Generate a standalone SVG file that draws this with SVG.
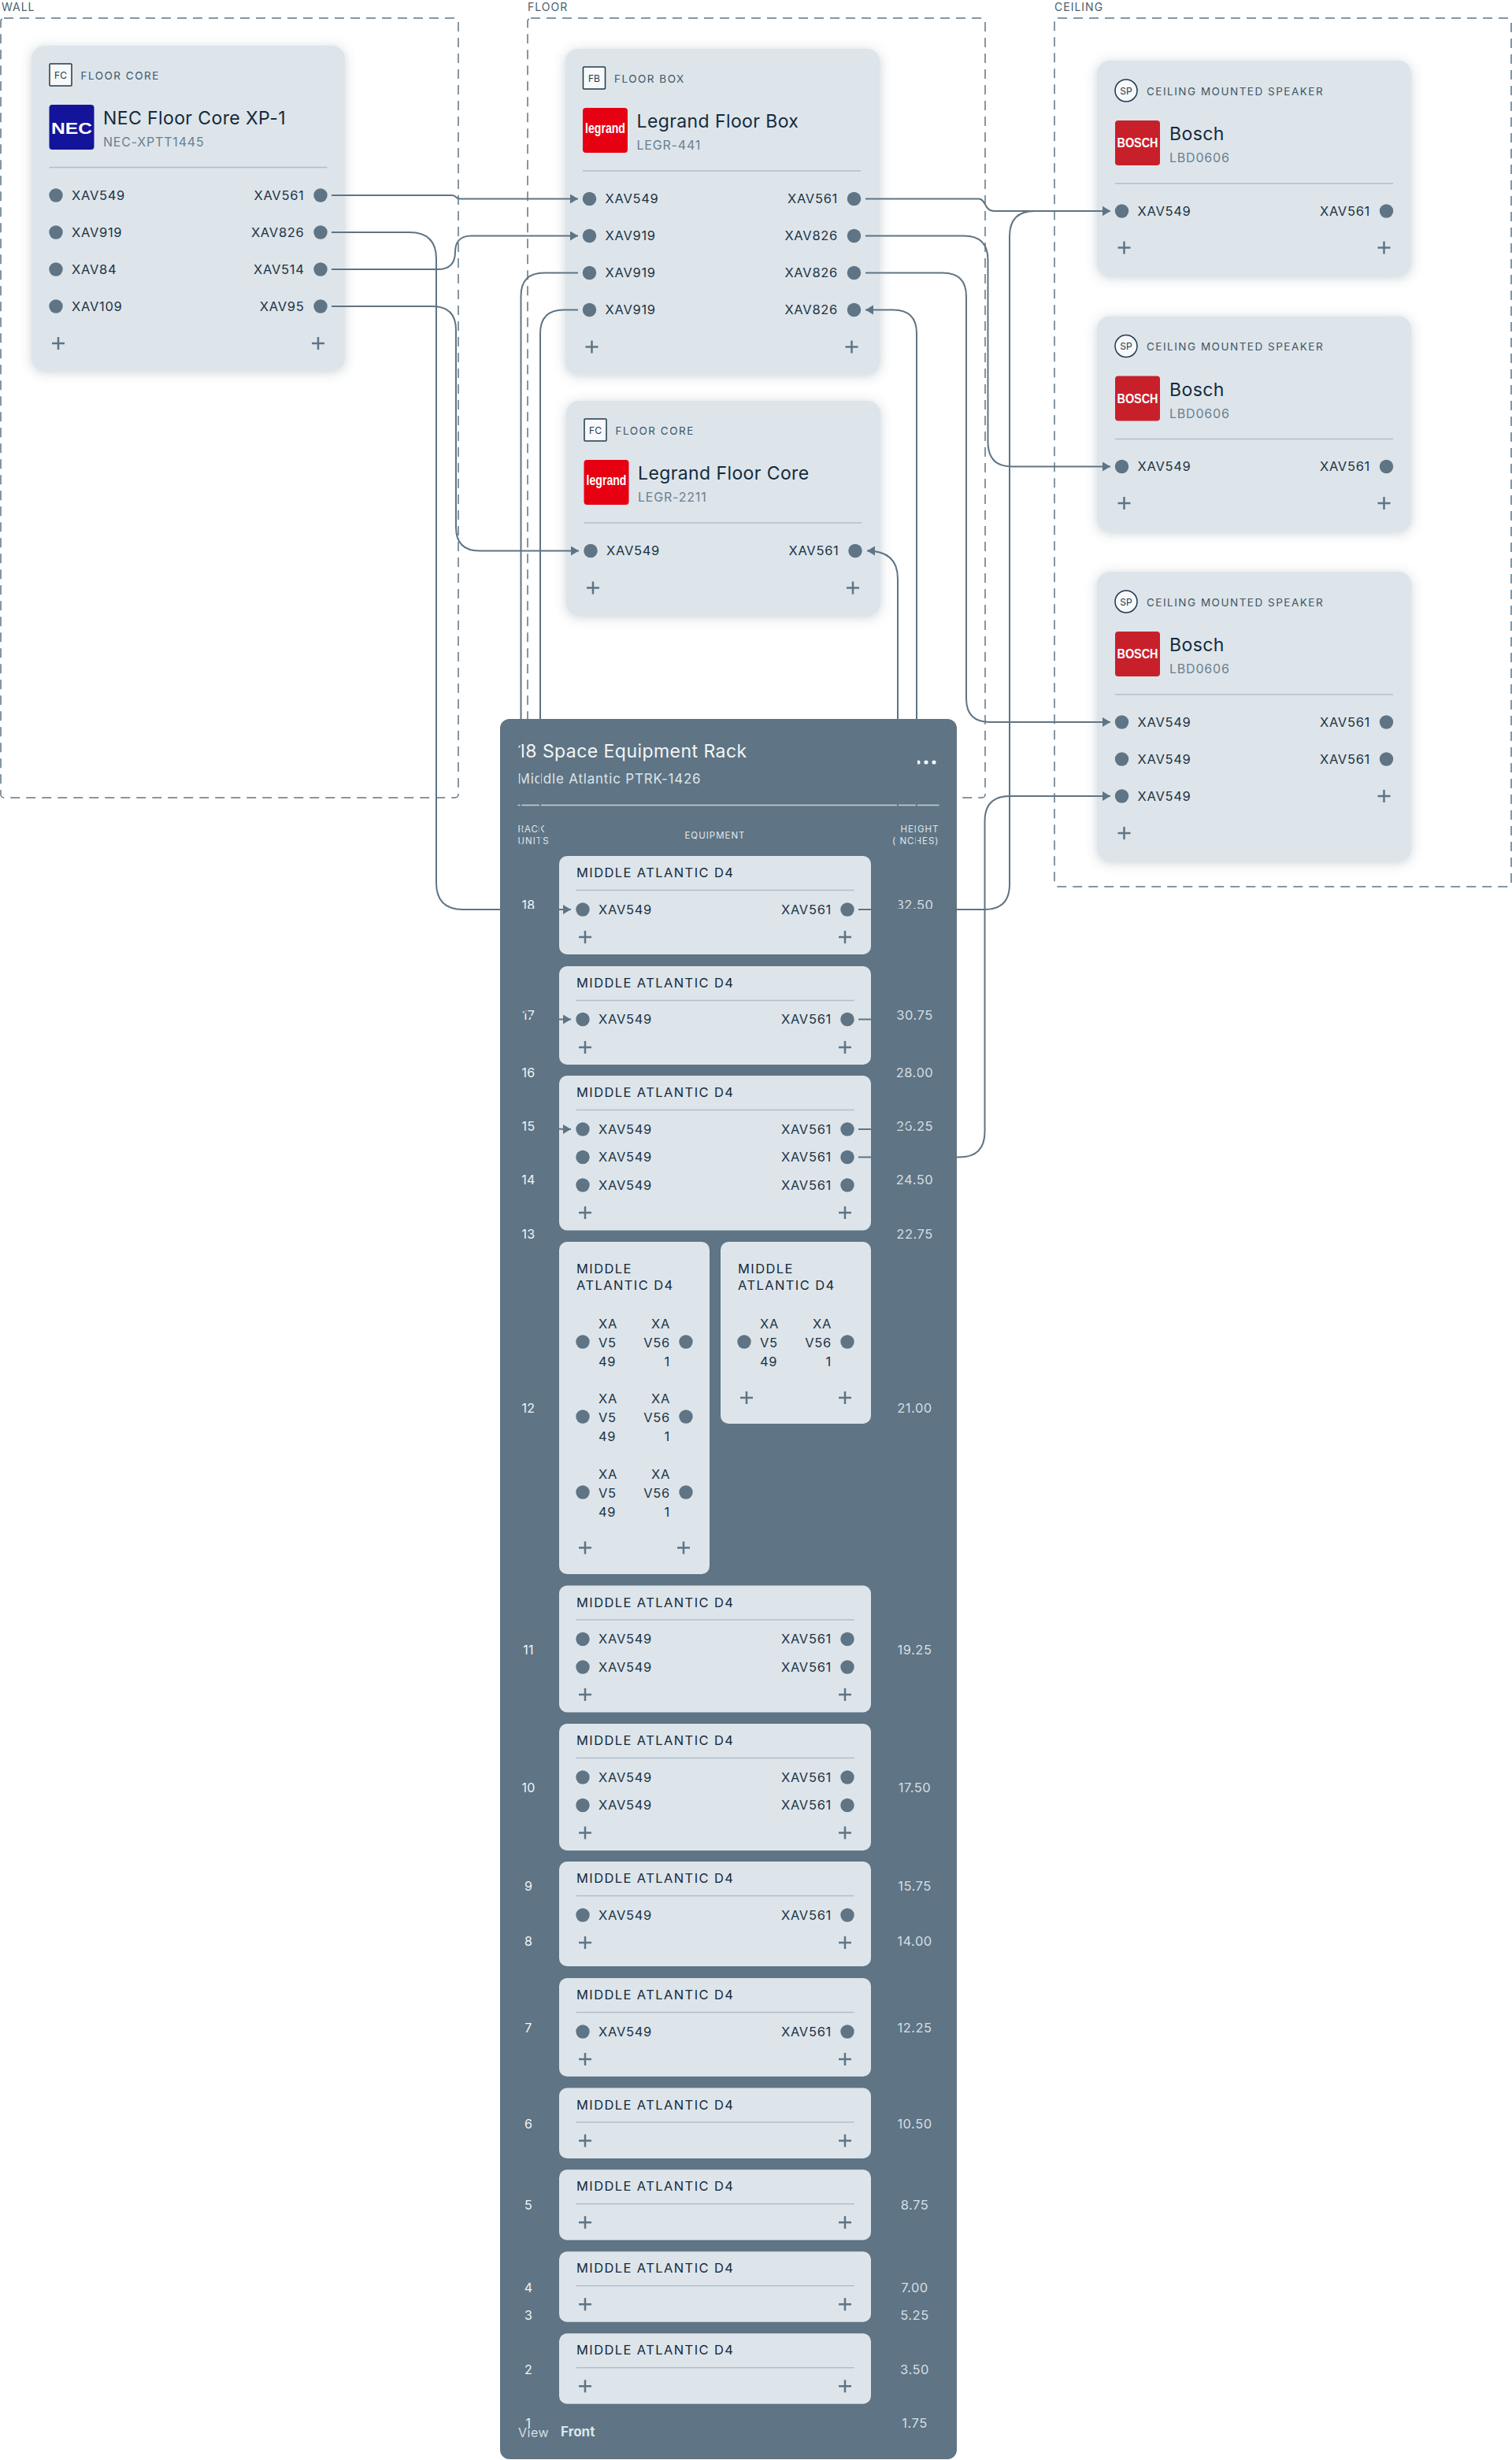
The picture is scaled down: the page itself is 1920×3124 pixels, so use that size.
<svg xmlns="http://www.w3.org/2000/svg" width="1920" height="3124" viewBox="0 0 1920 3124">
<style>
text{font-family:Inter,"Noto Sans","Liberation Sans",sans-serif}
.zone{fill:none;stroke:#5f7484;stroke-width:1.5;stroke-dasharray:12 8}
.zl{font-size:14px;letter-spacing:1px;fill:#4a5f6e}
.card{fill:#dde5eb;filter:url(#sh)}
.eq{fill:#dde5eb}
.ib{fill:#f7f9fa;stroke:#22384a;stroke-width:1.5}
.it{font-size:12px;fill:#22384a;text-anchor:middle}
.cap{font-size:13.5px;letter-spacing:1.5px;fill:#3e5566}
.nm{font-size:23px;fill:#132a3c;letter-spacing:.4px}
.sb{font-size:16px;fill:#6a7f8e;letter-spacing:.8px}
.div{stroke:#b0bfca;stroke-width:1.5;fill:none}
.d{fill:#5f7484}
.pt{font-size:16.5px;fill:#1c3344;letter-spacing:.7px}
.e{text-anchor:end}
.p{stroke:#5f7484;stroke-width:2.5;fill:none}
.lg{font-family:"Liberation Sans",sans-serif;font-weight:700;fill:#fff;text-anchor:middle}
.eqt{font-size:16.5px;letter-spacing:1.4px;fill:#14293a}
.ru{font-size:16px;fill:#f1f4f6;text-anchor:middle;letter-spacing:.3px}
.rh{font-size:16.5px;fill:#d5dee4;text-anchor:middle;letter-spacing:.5px}
.hd{font-size:11.5px;letter-spacing:1px;fill:#dfe6eb}
.cn{fill:none;stroke:#5f7484;stroke-width:2}
.ar{marker-end:url(#arw)}
</style>
<defs>
<filter id="sh" x="-15%" y="-15%" width="130%" height="130%"><feDropShadow dx="0" dy="2" stdDeviation="7" flood-color="#4a6070" flood-opacity=".28"/></filter>
<marker id="arw" markerUnits="userSpaceOnUse" markerWidth="11" markerHeight="13" refX="10" refY="6" orient="auto"><path d="M0 0L10 6L0 12Z" fill="#5f7484"/></marker>
<path id="plus" d="M-8 0H8M0 -8V8" class="p"/>
</defs>

<g id="zones">
<rect class="zone" x="1" y="23" width="581" height="990" rx="4"/>
<text class="zl" x="2" y="14">WALL</text>
<rect class="zone" x="670" y="23" width="581" height="990" rx="4"/>
<text class="zl" x="670" y="14">FLOOR</text>
<rect class="zone" x="1339" y="23" width="580" height="1103" rx="4"/>
<text class="zl" x="1339" y="14">CEILING</text>
</g>

<g id="wall-nec" transform="translate(40 58)">
<rect class="card" width="398" height="413" rx="16"/>
<rect class="ib" x="23" y="23" width="28" height="28" rx="1"/><text class="it" x="37" y="41.5">FC</text>
<text class="cap" x="62.5" y="42.7">FLOOR CORE</text>
<rect x="22.5" y="75" width="57" height="57" rx="4" fill="#14149a"/><text class="lg" x="51" y="112" font-size="20" textLength="52" lengthAdjust="spacingAndGlyphs">NEC</text>
<text class="nm" x="91" y="100">NEC Floor Core XP-1</text><text class="sb" x="91" y="128">NEC-XPTT1445</text>
<path class="div" d="M22.5 154.5H375.5"/>
<circle class="d" cx="31" cy="190" r="8.7"/><text class="pt" x="51" y="195.8">XAV549</text><text class="pt e" x="346.5" y="195.8">XAV561</text><circle class="d" cx="367" cy="190" r="8.7"/>
<circle class="d" cx="31" cy="237" r="8.7"/><text class="pt" x="51" y="242.8">XAV919</text><text class="pt e" x="346.5" y="242.8">XAV826</text><circle class="d" cx="367" cy="237" r="8.7"/>
<circle class="d" cx="31" cy="284" r="8.7"/><text class="pt" x="51" y="289.8">XAV84</text><text class="pt e" x="346.5" y="289.8">XAV514</text><circle class="d" cx="367" cy="284" r="8.7"/>
<circle class="d" cx="31" cy="331" r="8.7"/><text class="pt" x="51" y="336.8">XAV109</text><text class="pt e" x="346.5" y="336.8">XAV95</text><circle class="d" cx="367" cy="331" r="8.7"/>
<use href="#plus" x="34" y="378"/><use href="#plus" x="364" y="378"/>
</g>

<g id="floor-box" transform="translate(717.5 62)">
<rect class="card" width="400" height="413.5" rx="16"/>
<rect class="ib" x="23" y="23" width="28" height="28" rx="1"/><text class="it" x="37" y="41.5">FB</text>
<text class="cap" x="62.5" y="42.7">FLOOR BOX</text>
<rect x="22.5" y="75" width="57" height="57" rx="4" fill="#e60012"/><text class="lg" x="51" y="107" font-size="19" textLength="51" lengthAdjust="spacingAndGlyphs">legrand</text>
<text class="nm" x="91" y="100">Legrand Floor Box</text><text class="sb" x="91" y="128">LEGR-441</text>
<path class="div" d="M22.5 155H375.5"/>
<circle class="d" cx="31" cy="190.5" r="8.7"/><text class="pt" x="51" y="196.3">XAV549</text><text class="pt e" x="346.5" y="196.3">XAV561</text><circle class="d" cx="367" cy="190.5" r="8.7"/>
<circle class="d" cx="31" cy="237.5" r="8.7"/><text class="pt" x="51" y="243.3">XAV919</text><text class="pt e" x="346.5" y="243.3">XAV826</text><circle class="d" cx="367" cy="237.5" r="8.7"/>
<circle class="d" cx="31" cy="284.5" r="8.7"/><text class="pt" x="51" y="290.3">XAV919</text><text class="pt e" x="346.5" y="290.3">XAV826</text><circle class="d" cx="367" cy="284.5" r="8.7"/>
<circle class="d" cx="31" cy="331.5" r="8.7"/><text class="pt" x="51" y="337.3">XAV919</text><text class="pt e" x="346.5" y="337.3">XAV826</text><circle class="d" cx="367" cy="331.5" r="8.7"/>
<use href="#plus" x="34" y="378.5"/><use href="#plus" x="364" y="378.5"/>
</g>

<g id="floor-core" transform="translate(719 509)">
<rect class="card" width="399" height="273" rx="16"/>
<rect class="ib" x="23" y="23" width="28" height="28" rx="1"/><text class="it" x="37" y="41.5">FC</text>
<text class="cap" x="62.5" y="42.7">FLOOR CORE</text>
<rect x="22.5" y="75" width="57" height="57" rx="4" fill="#e60012"/><text class="lg" x="51" y="107" font-size="19" textLength="51" lengthAdjust="spacingAndGlyphs">legrand</text>
<text class="nm" x="91" y="100">Legrand Floor Core</text><text class="sb" x="91" y="128">LEGR-2211</text>
<path class="div" d="M22.5 155H375.5"/>
<circle class="d" cx="31" cy="190.5" r="8.7"/><text class="pt" x="51" y="196.3">XAV549</text><text class="pt e" x="346.5" y="196.3">XAV561</text><circle class="d" cx="367" cy="190.5" r="8.7"/>
<use href="#plus" x="34" y="237.5"/><use href="#plus" x="364" y="237.5"/>
</g>

<g id="ceiling-1" transform="translate(1393 77)">
<rect class="card" width="399" height="274" rx="16"/>
<circle class="ib" cx="37" cy="38" r="14"/><text class="it" x="37" y="42.5">SP</text>
<text class="cap" x="63" y="43.7">CEILING MOUNTED SPEAKER</text>
<rect x="23" y="76" width="57" height="57" rx="4" fill="#c8202a"/><text class="lg" x="51.5" y="110" font-size="16" textLength="52" lengthAdjust="spacingAndGlyphs">BOSCH</text>
<text class="nm" x="92" y="101">Bosch</text><text class="sb" x="92" y="129">LBD0606</text>
<path class="div" d="M23 156H376"/>
<circle class="d" cx="31.5" cy="191" r="8.7"/><text class="pt" x="51.5" y="196.8">XAV549</text><text class="pt e" x="347" y="196.8">XAV561</text><circle class="d" cx="367.5" cy="191" r="8.7"/>
<use href="#plus" x="34.5" y="237.5"/><use href="#plus" x="364.5" y="237.5"/>
</g>

<g id="ceiling-2" transform="translate(1393 401.5)">
<rect class="card" width="399" height="274" rx="16"/>
<circle class="ib" cx="37" cy="38" r="14"/><text class="it" x="37" y="42.5">SP</text>
<text class="cap" x="63" y="43.7">CEILING MOUNTED SPEAKER</text>
<rect x="23" y="76" width="57" height="57" rx="4" fill="#c8202a"/><text class="lg" x="51.5" y="110" font-size="16" textLength="52" lengthAdjust="spacingAndGlyphs">BOSCH</text>
<text class="nm" x="92" y="101">Bosch</text><text class="sb" x="92" y="129">LBD0606</text>
<path class="div" d="M23 156H376"/>
<circle class="d" cx="31.5" cy="191" r="8.7"/><text class="pt" x="51.5" y="196.8">XAV549</text><text class="pt e" x="347" y="196.8">XAV561</text><circle class="d" cx="367.5" cy="191" r="8.7"/>
<use href="#plus" x="34.5" y="237.5"/><use href="#plus" x="364.5" y="237.5"/>
</g>

<g id="ceiling-3" transform="translate(1393 726)">
<rect class="card" width="399" height="368" rx="16"/>
<circle class="ib" cx="37" cy="38" r="14"/><text class="it" x="37" y="42.5">SP</text>
<text class="cap" x="63" y="43.7">CEILING MOUNTED SPEAKER</text>
<rect x="23" y="76" width="57" height="57" rx="4" fill="#c8202a"/><text class="lg" x="51.5" y="110" font-size="16" textLength="52" lengthAdjust="spacingAndGlyphs">BOSCH</text>
<text class="nm" x="92" y="101">Bosch</text><text class="sb" x="92" y="129">LBD0606</text>
<path class="div" d="M23 156H376"/>
<circle class="d" cx="31.5" cy="191" r="8.7"/><text class="pt" x="51.5" y="196.8">XAV549</text><text class="pt e" x="347" y="196.8">XAV561</text><circle class="d" cx="367.5" cy="191" r="8.7"/>
<circle class="d" cx="31.5" cy="238" r="8.7"/><text class="pt" x="51.5" y="243.8">XAV549</text><text class="pt e" x="347" y="243.8">XAV561</text><circle class="d" cx="367.5" cy="238" r="8.7"/>
<circle class="d" cx="31.5" cy="285" r="8.7"/><text class="pt" x="51.5" y="290.8">XAV549</text>
<use href="#plus" x="364.5" y="285"/><use href="#plus" x="34.5" y="332"/>
</g>

<g id="rack">
<rect x="635" y="913" width="580" height="2210" rx="12" fill="#5f7484"/>
<text x="657.5" y="962" font-size="23" fill="#f3f6f7" letter-spacing=".45">18 Space Equipment Rack</text>
<text x="657.5" y="995" font-size="17" fill="#dde5eb" letter-spacing=".8">Middle Atlantic PTRK-1426</text>
<circle cx="1166" cy="968" r="2.6" fill="#f3f6f7"/><circle cx="1176" cy="968" r="2.6" fill="#f3f6f7"/><circle cx="1186" cy="968" r="2.6" fill="#f3f6f7"/>
<path d="M657.5 1022.5H1192.5" stroke="#c8d4dc" stroke-width="1.5"/>
<text class="hd" x="657.5" y="1057">RACK</text><text class="hd" x="657.5" y="1072">UNITS</text>
<text class="hd" x="908" y="1065" text-anchor="middle">EQUIPMENT</text>
<text class="hd e" x="1192.5" y="1057">HEIGHT</text><text class="hd e" x="1192.5" y="1072">(INCHES)</text>
<text class="ru" x="671" y="1155">18</text><text class="rh" x="1161.5" y="1155">32.50</text>
<text class="ru" x="671" y="1295">17</text><text class="rh" x="1161.5" y="1295">30.75</text>
<text class="ru" x="671" y="1367.5">16</text><text class="rh" x="1161.5" y="1367.5">28.00</text>
<text class="ru" x="671" y="1436">15</text><text class="rh" x="1161.5" y="1436">26.25</text>
<text class="ru" x="671" y="1504">14</text><text class="rh" x="1161.5" y="1504">24.50</text>
<text class="ru" x="671" y="1572.5">13</text><text class="rh" x="1161.5" y="1572.5">22.75</text>
<text class="ru" x="671" y="1794">12</text><text class="rh" x="1161.5" y="1794">21.00</text>
<text class="ru" x="671" y="2101">11</text><text class="rh" x="1161.5" y="2101">19.25</text>
<text class="ru" x="671" y="2275.5">10</text><text class="rh" x="1161.5" y="2275.5">17.50</text>
<text class="ru" x="671" y="2401">9</text><text class="rh" x="1161.5" y="2401">15.75</text>
<text class="ru" x="671" y="2470.5">8</text><text class="rh" x="1161.5" y="2470.5">14.00</text>
<text class="ru" x="671" y="2580.5">7</text><text class="rh" x="1161.5" y="2580.5">12.25</text>
<text class="ru" x="671" y="2702.5">6</text><text class="rh" x="1161.5" y="2702.5">10.50</text>
<text class="ru" x="671" y="2806">5</text><text class="rh" x="1161.5" y="2806">8.75</text>
<text class="ru" x="671" y="2910.5">4</text><text class="rh" x="1161.5" y="2910.5">7.00</text>
<text class="ru" x="671" y="2946">3</text><text class="rh" x="1161.5" y="2946">5.25</text>
<text class="ru" x="671" y="3014.5">2</text><text class="rh" x="1161.5" y="3014.5">3.50</text>
<text class="ru" x="671" y="3082.5">1</text><text class="rh" x="1161.5" y="3082.5">1.75</text>
<text x="658" y="3095" font-size="16" fill="#d5dee4" letter-spacing=".5">View</text>
<text x="712" y="3094" font-size="17" font-weight="700" fill="#dde5eb">Front</text>
</g>

<g id="eq-18" transform="translate(710 1087)">
<rect class="eq" width="396" height="125" rx="10"/><text class="eqt" x="22" y="27">MIDDLE ATLANTIC D4</text><path class="div" d="M21.5 43.5H374.5"/>
<circle class="d" cx="30" cy="68" r="8.7"/><text class="pt" x="50" y="73.8">XAV549</text><text class="pt e" x="346" y="73.8">XAV561</text><circle class="d" cx="366" cy="68" r="8.7"/>
<use href="#plus" x="33" y="103"/><use href="#plus" x="363" y="103"/>
</g>
<g id="eq-17" transform="translate(710 1227)">
<rect class="eq" width="396" height="125" rx="10"/><text class="eqt" x="22" y="27">MIDDLE ATLANTIC D4</text><path class="div" d="M21.5 43.5H374.5"/>
<circle class="d" cx="30" cy="67.5" r="8.7"/><text class="pt" x="50" y="73.3">XAV549</text><text class="pt e" x="346" y="73.3">XAV561</text><circle class="d" cx="366" cy="67.5" r="8.7"/>
<use href="#plus" x="33" y="103"/><use href="#plus" x="363" y="103"/>
</g>
<g id="eq-16" transform="translate(710 1366)">
<rect class="eq" width="396" height="196.5" rx="10"/><text class="eqt" x="22" y="27">MIDDLE ATLANTIC D4</text><path class="div" d="M21.5 43.5H374.5"/>
<circle class="d" cx="30" cy="68" r="8.7"/><text class="pt" x="50" y="73.8">XAV549</text><text class="pt e" x="346" y="73.8">XAV561</text><circle class="d" cx="366" cy="68" r="8.7"/>
<circle class="d" cx="30" cy="103.5" r="8.7"/><text class="pt" x="50" y="109.3">XAV549</text><text class="pt e" x="346" y="109.3">XAV561</text><circle class="d" cx="366" cy="103.5" r="8.7"/>
<circle class="d" cx="30" cy="139" r="8.7"/><text class="pt" x="50" y="144.8">XAV549</text><text class="pt e" x="346" y="144.8">XAV561</text><circle class="d" cx="366" cy="139" r="8.7"/>
<use href="#plus" x="33" y="174"/><use href="#plus" x="363" y="174"/>
</g>
<g id="eq-12a" transform="translate(710 1577)">
<rect class="eq" width="191" height="422" rx="10"/><text class="eqt" x="22" y="39.5">MIDDLE</text><text class="eqt" x="22" y="61">ATLANTIC D4</text>
<circle class="d" cx="30" cy="127" r="8.7"/><text class="pt" x="50" y="109.5">XA<tspan x="50" dy="24.4">V5</tspan><tspan x="50" dy="24.4">49</tspan></text><text class="pt e" x="141" y="109.5">XA<tspan x="141" dy="24.4">V56</tspan><tspan x="141" dy="24.4">1</tspan></text><circle class="d" cx="161" cy="127" r="8.7"/>
<circle class="d" cx="30" cy="222" r="8.7"/><text class="pt" x="50" y="204.5">XA<tspan x="50" dy="24.4">V5</tspan><tspan x="50" dy="24.4">49</tspan></text><text class="pt e" x="141" y="204.5">XA<tspan x="141" dy="24.4">V56</tspan><tspan x="141" dy="24.4">1</tspan></text><circle class="d" cx="161" cy="222" r="8.7"/>
<circle class="d" cx="30" cy="318" r="8.7"/><text class="pt" x="50" y="300.5">XA<tspan x="50" dy="24.4">V5</tspan><tspan x="50" dy="24.4">49</tspan></text><text class="pt e" x="141" y="300.5">XA<tspan x="141" dy="24.4">V56</tspan><tspan x="141" dy="24.4">1</tspan></text><circle class="d" cx="161" cy="318" r="8.7"/>
<use href="#plus" x="33" y="388.5"/><use href="#plus" x="158" y="388.5"/>
</g>
<g id="eq-12b" transform="translate(915 1577)">
<rect class="eq" width="191" height="231" rx="10"/><text class="eqt" x="22" y="39.5">MIDDLE</text><text class="eqt" x="22" y="61">ATLANTIC D4</text>
<circle class="d" cx="30" cy="127" r="8.7"/><text class="pt" x="50" y="109.5">XA<tspan x="50" dy="24.4">V5</tspan><tspan x="50" dy="24.4">49</tspan></text><text class="pt e" x="141" y="109.5">XA<tspan x="141" dy="24.4">V56</tspan><tspan x="141" dy="24.4">1</tspan></text><circle class="d" cx="161" cy="127" r="8.7"/>
<use href="#plus" x="33" y="198"/><use href="#plus" x="158" y="198"/>
</g>
<g id="eq-11" transform="translate(710 2013.5)">
<rect class="eq" width="396" height="161" rx="10"/><text class="eqt" x="22" y="27">MIDDLE ATLANTIC D4</text><path class="div" d="M21.5 43.5H374.5"/>
<circle class="d" cx="30" cy="68" r="8.7"/><text class="pt" x="50" y="73.8">XAV549</text><text class="pt e" x="346" y="73.8">XAV561</text><circle class="d" cx="366" cy="68" r="8.7"/>
<circle class="d" cx="30" cy="103.5" r="8.7"/><text class="pt" x="50" y="109.3">XAV549</text><text class="pt e" x="346" y="109.3">XAV561</text><circle class="d" cx="366" cy="103.5" r="8.7"/>
<use href="#plus" x="33" y="138.5"/><use href="#plus" x="363" y="138.5"/>
</g>
<g id="eq-10" transform="translate(710 2189)">
<rect class="eq" width="396" height="161" rx="10"/><text class="eqt" x="22" y="27">MIDDLE ATLANTIC D4</text><path class="div" d="M21.5 43.5H374.5"/>
<circle class="d" cx="30" cy="68" r="8.7"/><text class="pt" x="50" y="73.8">XAV549</text><text class="pt e" x="346" y="73.8">XAV561</text><circle class="d" cx="366" cy="68" r="8.7"/>
<circle class="d" cx="30" cy="103.5" r="8.7"/><text class="pt" x="50" y="109.3">XAV549</text><text class="pt e" x="346" y="109.3">XAV561</text><circle class="d" cx="366" cy="103.5" r="8.7"/>
<use href="#plus" x="33" y="138.5"/><use href="#plus" x="363" y="138.5"/>
</g>
<g id="eq-9" transform="translate(710 2364)">
<rect class="eq" width="396" height="133" rx="10"/><text class="eqt" x="22" y="27">MIDDLE ATLANTIC D4</text><path class="div" d="M21.5 43.5H374.5"/>
<circle class="d" cx="30" cy="68" r="8.7"/><text class="pt" x="50" y="73.8">XAV549</text><text class="pt e" x="346" y="73.8">XAV561</text><circle class="d" cx="366" cy="68" r="8.7"/>
<use href="#plus" x="33" y="103"/><use href="#plus" x="363" y="103"/>
</g>
<g id="eq-7" transform="translate(710 2512)">
<rect class="eq" width="396" height="125" rx="10"/><text class="eqt" x="22" y="27">MIDDLE ATLANTIC D4</text><path class="div" d="M21.5 43.5H374.5"/>
<circle class="d" cx="30" cy="68" r="8.7"/><text class="pt" x="50" y="73.8">XAV549</text><text class="pt e" x="346" y="73.8">XAV561</text><circle class="d" cx="366" cy="68" r="8.7"/>
<use href="#plus" x="33" y="103"/><use href="#plus" x="363" y="103"/>
</g>
<g id="eq-6" transform="translate(710 2651.5)">
<rect class="eq" width="396" height="89.5" rx="10"/><text class="eqt" x="22" y="27">MIDDLE ATLANTIC D4</text><path class="div" d="M21.5 43.5H374.5"/>
<use href="#plus" x="33" y="67"/><use href="#plus" x="363" y="67"/>
</g>
<g id="eq-5" transform="translate(710 2755.3)">
<rect class="eq" width="396" height="89.5" rx="10"/><text class="eqt" x="22" y="27">MIDDLE ATLANTIC D4</text><path class="div" d="M21.5 43.5H374.5"/>
<use href="#plus" x="33" y="67"/><use href="#plus" x="363" y="67"/>
</g>
<g id="eq-4" transform="translate(710 2859.3)">
<rect class="eq" width="396" height="89.5" rx="10"/><text class="eqt" x="22" y="27">MIDDLE ATLANTIC D4</text><path class="div" d="M21.5 43.5H374.5"/>
<use href="#plus" x="33" y="67"/><use href="#plus" x="363" y="67"/>
</g>
<g id="eq-2" transform="translate(710 2963.3)">
<rect class="eq" width="396" height="89.5" rx="10"/><text class="eqt" x="22" y="27">MIDDLE ATLANTIC D4</text><path class="div" d="M21.5 43.5H374.5"/>
<use href="#plus" x="33" y="67"/><use href="#plus" x="363" y="67"/>
</g>

<g id="connectors">
<path class="cn ar" d="M421 248H574C580 248 578 252.5 584 252.5H734"/>
<path class="cn ar" d="M421 295H520Q554 295 554 329V1121Q554 1155 588 1155H725"/>
<path class="cn ar" d="M421 342H556C572 342 578 333 578 320C578 308 584 299.5 598 299.5H734"/>
<path class="cn ar" d="M421 389H549Q579 389 579 419V669.5Q579 699.5 609 699.5H735"/>
<path class="cn ar" d="M734 346.5H691Q661.5 346.5 661.5 376V1264.5Q661.5 1294.5 691.5 1294.5H725"/>
<path class="cn ar" d="M734 393.5H716Q686 393.5 686 423.5V1404Q686 1434 716 1434H725"/>
<path class="cn ar" d="M1099 252.5H1243C1252 252.5 1250 268 1262 268H1410"/>
<path class="cn ar" d="M1099 299.5H1224Q1254.5 299.5 1254.5 330V561Q1254.5 592.5 1285 592.5H1410"/>
<path class="cn ar" d="M1099 346.5H1197Q1227 346.5 1227 376.5V887Q1227 917 1257 917H1410"/>
<path class="cn ar" d="M1090 1434H1134Q1164 1434 1164 1404V423.5Q1164 393.5 1134 393.5H1099"/>
<path class="cn ar" d="M1090 1294.5H1110Q1140 1294.5 1140 1264.5V735Q1140 699.5 1101 699.5"/>
<path class="cn ar" d="M1090 1155H1250Q1282 1155 1282 1123V300Q1282 268 1314 268H1410"/>
<path class="cn ar" d="M1090 1469.6H1218Q1250.5 1469.6 1250.5 1437V1043Q1250.5 1011 1282 1011H1410"/>
</g>
</svg>
